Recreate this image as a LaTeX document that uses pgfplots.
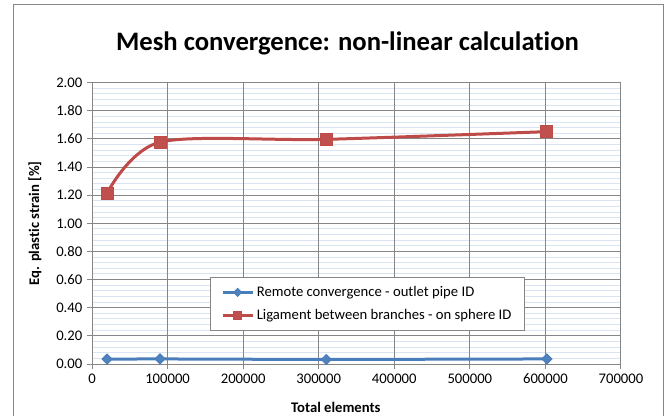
\documentclass[border=0pt]{standalone}
\usepackage{fontspec}
\setmainfont{Carlito}[Ligatures=NoCommon]
\usepackage{pgfplots}
\pgfplotsset{compat=1.18}
\definecolor{sblue}{RGB}{74,126,187}
\definecolor{sbluefill}{RGB}{79,129,189}
\definecolor{sred}{RGB}{190,75,72}
\definecolor{sredfill}{RGB}{192,80,77}
\definecolor{axisgray}{RGB}{134,134,134}
\definecolor{minorgrid}{RGB}{218,228,240}
\begin{document}
\begin{tikzpicture}[x=0.75pt,y=0.75pt]
\useasboundingbox (0,0) rectangle (668,415);
\draw[axisgray, line width=0.75pt] (13,-10) rectangle (663,410);
\foreach \k in {1,2,3,4,6,7,8,9,11,12,13,14,16,17,18,19,21,22,23,24,26,27,28,29,31,32,33,34,36,37,38,39,41,42,43,44,46,47,48,49}{
  \draw[minorgrid, line width=0.75pt] (92,{51+\k*5.626667}) -- (621,{51+\k*5.626667});
}
\node[font=\bfseries\fontsize{20}{24}\selectfont, anchor=base] at (347.5,364) {Mesh convergence: non-linear calculation};
\begin{axis}[
  at={(69pt,38.25pt)}, anchor=south west,
  scale only axis, width=396.75pt, height=211pt,
  xmin=0, xmax=700000, ymin=0, ymax=2,
  xtick distance=100000, ytick distance=0.2,
  scaled x ticks=false,
  xticklabel style={/pgf/number format/.cd, fixed, precision=0, 1000 sep={}},
  yticklabel style={/pgf/number format/.cd, fixed, fixed zerofill, precision=2},
  /pgf/number format/assume math mode=true,
  tick pos=left, tick align=outside,
  major tick length=3.75pt,
  tick style={axisgray, line width=0.75pt},
  axis line style={axisgray, line width=0.75pt},
  xmajorgrids, ymajorgrids,
  major grid style={axisgray, line width=0.75pt},
  ticklabel style={font=\fontsize{11}{13}\selectfont},
  xlabel={Total elements}, ylabel={Eq. plastic strain [\%]},
  every axis x label/.style={at={(axis description cs:0.461,-0.153)}, anchor=center, font=\bfseries\fontsize{11}{13}\selectfont},
  every axis y label/.style={at={(axis description cs:-0.1077,0.5)}, anchor=center, rotate=90, font=\bfseries\fontsize{11}{13}\selectfont},
  legend style={at={(axis description cs:0.223,0.309)}, anchor=north west,
    draw=axisgray, line width=0.75pt, fill=white, font=\fontsize{11}{13}\selectfont,
    inner xsep=8pt, inner ysep=4.5pt, row sep=4.5pt},
  legend cell align=left,
  legend image code/.code={\draw[mark repeat=2,mark phase=2,#1] plot coordinates {(0pt,0pt) (11.25pt,0pt) (22.5pt,0pt)};},
]
\addplot[sblue, line width=2.25pt, mark=square*, mark size=2.65pt,
  mark options={rotate=45, draw=sblue, fill=sbluefill, line width=0.75pt},
  legend image post style={mark size=2.1pt}]
  coordinates {(20000,0.035) (90000,0.036) (310000,0.032) (602000,0.036)};
\addlegendentry{Remote convergence - outlet pipe ID}
\addplot[sred, line width=2.25pt, smooth, mark=square*, mark size=4.5pt,
  mark options={draw=sred, fill=sredfill, line width=0.75pt},
  legend image post style={mark size=3pt}]
  coordinates {(20000,1.215) (90000,1.577) (310000,1.597) (602000,1.652)};
\addlegendentry{Ligament between branches - on sphere ID}
\end{axis}
\end{tikzpicture}
\end{document}
